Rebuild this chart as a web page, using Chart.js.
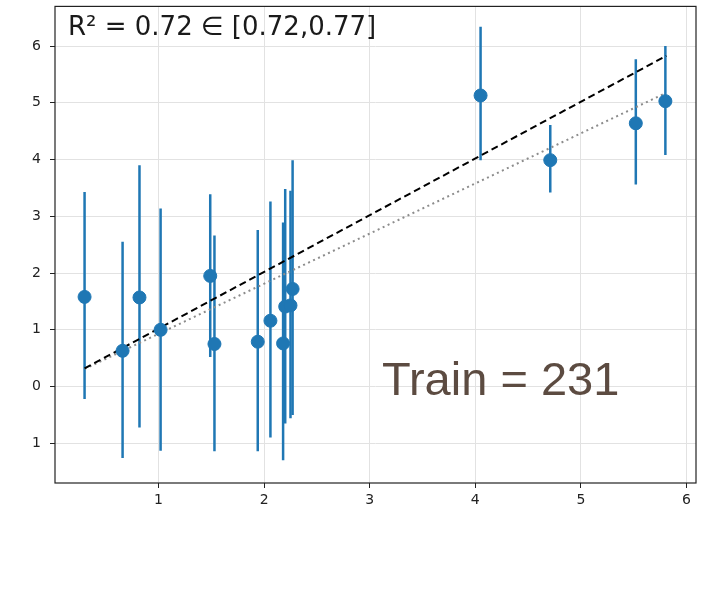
<!DOCTYPE html>
<html>
<head>
<meta charset="utf-8">
<script src="https://cdn.jsdelivr.net/npm/chart.js@4/dist/chart.umd.min.js"></script>
<style>
  html, body { margin: 0; padding: 0; background: #fff; overflow: hidden; }
  #wrap { width: 705px; height: 590px; position: relative; overflow: hidden; }
  #inner { position: absolute; left: 0; top: -11px; width: 705px; height: 601px; }
</style>
</head>
<body>
<div id="wrap"><div id="inner"><canvas id="plot"></canvas></div></div>
<script>
// measured values (x, y) with their error bar ends
const xVals  = [0.30, 0.66, 0.82, 1.02, 1.49, 1.53, 1.94, 2.06, 2.18, 2.20, 2.25, 2.27, 4.05, 4.71, 5.52, 5.80];
const yVals  = [1.58, 0.63, 1.57, 1.00, 1.95, 0.75, 0.79, 1.16, 0.76, 1.41, 1.43, 1.72, 5.13, 3.99, 4.64, 5.03];
const yHigh  = [3.43, 2.55, 3.90, 3.14, 3.39, 2.66, 2.76, 3.26, 2.89, 3.48, 3.45, 3.99, 6.34, 4.61, 5.77, 6.00];
const yLow   = [-0.22, -1.26, -0.72, -1.13, 0.52, -1.14, -1.14, -0.90, -1.30, -0.65, -0.56, -0.50, 3.99, 3.42, 3.56, 4.08];

// the two fit lines (end points)
const dashX = [0.30, 5.81];
const dashY = [0.32, 5.83];
const dotX  = [0.30, 5.80];
const dotY  = [0.31, 5.17];

const xTicks = [1, 2, 3, 4, 5, 6];
const yTicks = [-1, 0, 1, 2, 3, 4, 5, 6];
const yTickLabels = ['1', '0', '1', '2', '3', '4', '5', '6'];

const r2Text = 'R² = 0.72 ∈ [0.72,0.77]';
const trainText = 'Train = 231';

const blue = '#1f77b4';

let datasets = [];

//error bars, one small line each
for (let i = 0; i < xVals.length; i++) {
  datasets.push({
    type: 'line',
    data: [{x: xVals[i], y: yLow[i]}, {x: xVals[i], y: yHigh[i]}],
    borderColor: blue,
    borderWidth: 2.5,
    pointRadius: 0,
    order: 2
  });
}

datasets.push({
  type: 'scatter',
  data: xVals.map((x, i) => ({x: x, y: yVals[i]})),
  backgroundColor: blue,
  borderColor: blue,
  pointRadius: 6.5,
  order: 0
});

datasets.push({
  type: 'line',
  data: dashX.map((x, i) => ({x: x, y: dashY[i]})),
  borderColor: '#000',
  borderWidth: 2,
  borderDash: [7, 4],
  pointRadius: 0,
  order: 1
});

datasets.push({
  type: 'line',
  data: dotX.map((x, i) => ({x: x, y: dotY[i]})),
  borderColor: '#8c8c8c',
  borderWidth: 2,
  borderDash: [2, 3.5],
  pointRadius: 0,
  order: 1
});

// frame round the plot + the two text labels
const framePlugin = {
  id: 'frame',
  afterDatasetsDraw(chart) {
    const ctx = chart.ctx;
    const a = chart.chartArea;
    ctx.save();
    ctx.strokeStyle = '#222';
    ctx.lineWidth = 1.2;
    ctx.strokeRect(a.left, a.top, a.right - a.left, a.bottom - a.top);

    ctx.fillStyle = '#1a1a1a';
    ctx.font = '26px "DejaVu Sans"';
    ctx.textBaseline = 'alphabetic';
    ctx.textAlign = 'left';
    ctx.fillText(r2Text, a.left + 13, a.top + 29);

    ctx.fillStyle = '#5c4b41';
    ctx.font = '47px "Liberation Sans"';
    ctx.fillText(trainText, a.left + 327, a.top + 389);
    ctx.restore();
  }
};

new Chart(document.getElementById('plot'), {
  type: 'scatter',
  data: { datasets: datasets },
  options: {
    responsive: true,
    maintainAspectRatio: false,
    animation: false,
    layout: { padding: { top: 6, right: 9, left: 0, bottom: 0 } },
    plugins: { legend: { display: false }, tooltip: { enabled: false } },
    scales: {
      x: {
        type: 'linear',
        min: 0.02,
        max: 6.09,
        afterFit(scale) { scale.height = 107; },
        afterBuildTicks(scale) { scale.ticks = xTicks.map(v => ({value: v})); },
        ticks: {
          font: { family: 'DejaVu Sans', size: 14 },
          color: '#222',
          padding: 4,
          callback: v => String(v)
        },
        grid: { color: '#e2e2e2', lineWidth: 1, tickColor: '#222', tickLength: 5 },
        border: { display: false }
      },
      y: {
        type: 'linear',
        min: -1.7,
        max: 6.7,
        afterFit(scale) { scale.width = 55; },
        afterBuildTicks(scale) { scale.ticks = yTicks.map(v => ({value: v})); },
        ticks: {
          font: { family: 'DejaVu Sans', size: 14 },
          color: '#222',
          padding: 9,
          callback: v => yTickLabels[yTicks.indexOf(v)]
        },
        grid: { color: '#e2e2e2', lineWidth: 1, tickColor: '#222', tickLength: 5 },
        border: { display: false }
      }
    }
  },
  plugins: [framePlugin]
});
</script>
</body>
</html>
